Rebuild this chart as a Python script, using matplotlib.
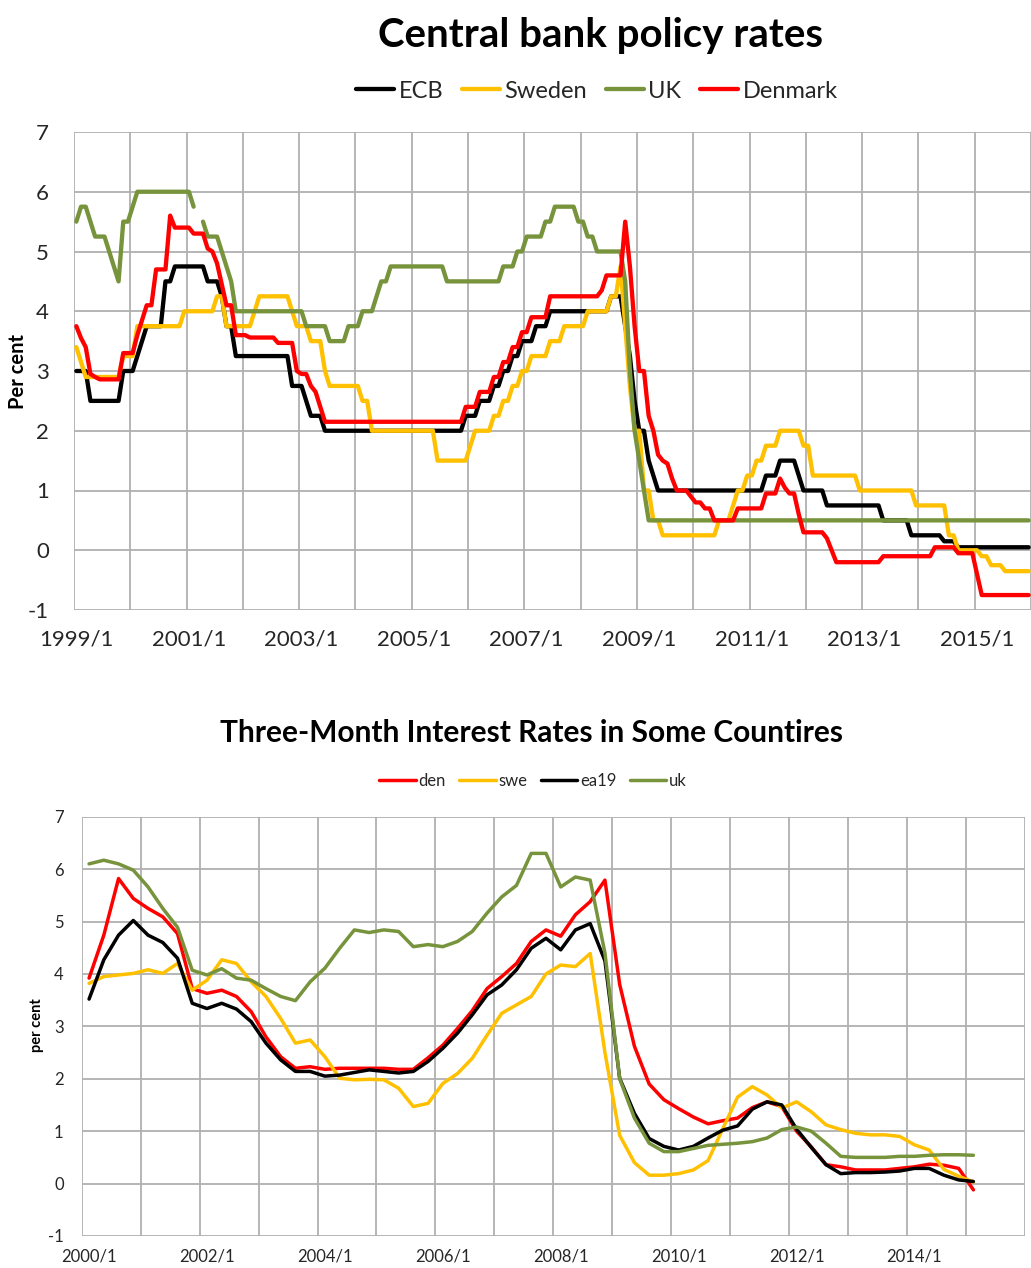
import numpy as np
import matplotlib
matplotlib.use("Agg")
import matplotlib.pyplot as plt

plt.rcParams['font.family'] = ['Lato', 'DejaVu Sans']
plt.rcParams['axes.unicode_minus'] = False

# ---------------- Top chart: monthly policy rates, 1999/1 .. 2015/12 ----------------
ecb_rate = [
    3.0, 3.0, 3.0, 2.5, 2.5, 2.5, 2.5, 2.5, 2.5, 2.5, 3.0, 3.0,            # 1999
    3.0, 3.25, 3.5, 3.75, 3.75, 3.75, 3.75, 4.5, 4.5, 4.75, 4.75, 4.75,    # 2000
    4.75, 4.75, 4.75, 4.75, 4.5, 4.5, 4.5, 4.25, 3.75, 3.75, 3.25, 3.25,   # 2001
    3.25, 3.25, 3.25, 3.25, 3.25, 3.25, 3.25, 3.25, 3.25, 3.25, 2.75, 2.75,  # 2002
    2.75, 2.5, 2.25, 2.25, 2.25, 2.0, 2.0, 2.0, 2.0, 2.0, 2.0, 2.0,        # 2003
    2.0, 2.0, 2.0, 2.0, 2.0, 2.0, 2.0, 2.0, 2.0, 2.0, 2.0, 2.0,            # 2004
    2.0, 2.0, 2.0, 2.0, 2.0, 2.0, 2.0, 2.0, 2.0, 2.0, 2.0, 2.25,           # 2005
    2.25, 2.25, 2.5, 2.5, 2.5, 2.75, 2.75, 3.0, 3.0, 3.25, 3.25, 3.5,      # 2006
    3.5, 3.5, 3.75, 3.75, 3.75, 4.0, 4.0, 4.0, 4.0, 4.0, 4.0, 4.0,         # 2007
    4.0, 4.0, 4.0, 4.0, 4.0, 4.0, 4.25, 4.25, 4.25, 3.75, 3.25, 2.5,       # 2008
    2.0, 2.0, 1.5, 1.25, 1.0, 1.0, 1.0, 1.0, 1.0, 1.0, 1.0, 1.0,           # 2009
    1.0, 1.0, 1.0, 1.0, 1.0, 1.0, 1.0, 1.0, 1.0, 1.0, 1.0, 1.0,            # 2010
    1.0, 1.0, 1.0, 1.25, 1.25, 1.25, 1.5, 1.5, 1.5, 1.5, 1.25, 1.0,        # 2011
    1.0, 1.0, 1.0, 1.0, 0.75, 0.75, 0.75, 0.75, 0.75, 0.75, 0.75, 0.75,    # 2012
    0.75, 0.75, 0.75, 0.75, 0.5, 0.5, 0.5, 0.5, 0.5, 0.5, 0.25, 0.25,      # 2013
    0.25, 0.25, 0.25, 0.25, 0.25, 0.15, 0.15, 0.15, 0.05, 0.05, 0.05, 0.05,  # 2014
    0.05, 0.05, 0.05, 0.05, 0.05, 0.05, 0.05, 0.05, 0.05, 0.05, 0.05, 0.05,  # 2015
]
sweden_rate = [
    3.4, 3.15, 2.9, 2.9, 2.9, 2.9, 2.9, 2.9, 2.9, 2.9, 3.25, 3.25,         # 1999
    3.25, 3.75, 3.75, 3.75, 3.75, 3.75, 3.75, 3.75, 3.75, 3.75, 3.75, 4.0,  # 2000
    4.0, 4.0, 4.0, 4.0, 4.0, 4.0, 4.25, 4.25, 3.75, 3.75, 3.75, 3.75,      # 2001
    3.75, 3.75, 4.0, 4.25, 4.25, 4.25, 4.25, 4.25, 4.25, 4.25, 4.0, 3.75,  # 2002
    3.75, 3.75, 3.5, 3.5, 3.5, 3.0, 2.75, 2.75, 2.75, 2.75, 2.75, 2.75,    # 2003
    2.75, 2.5, 2.5, 2.0, 2.0, 2.0, 2.0, 2.0, 2.0, 2.0, 2.0, 2.0,           # 2004
    2.0, 2.0, 2.0, 2.0, 2.0, 1.5, 1.5, 1.5, 1.5, 1.5, 1.5, 1.5,            # 2005
    1.75, 2.0, 2.0, 2.0, 2.0, 2.25, 2.25, 2.5, 2.5, 2.75, 2.75, 3.0,       # 2006
    3.0, 3.25, 3.25, 3.25, 3.25, 3.5, 3.5, 3.5, 3.75, 3.75, 3.75, 3.75,    # 2007
    3.75, 4.0, 4.0, 4.0, 4.0, 4.0, 4.25, 4.25, 4.75, 3.75, 2.75, 2.0,      # 2008
    2.0, 1.0, 1.0, 0.5, 0.5, 0.25, 0.25, 0.25, 0.25, 0.25, 0.25, 0.25,     # 2009
    0.25, 0.25, 0.25, 0.25, 0.25, 0.5, 0.5, 0.5, 0.75, 1.0, 1.0, 1.25,     # 2010
    1.25, 1.5, 1.5, 1.75, 1.75, 1.75, 2.0, 2.0, 2.0, 2.0, 2.0, 1.75,       # 2011
    1.75, 1.25, 1.25, 1.25, 1.25, 1.25, 1.25, 1.25, 1.25, 1.25, 1.25, 1.0,  # 2012
    1.0, 1.0, 1.0, 1.0, 1.0, 1.0, 1.0, 1.0, 1.0, 1.0, 1.0, 0.75,           # 2013
    0.75, 0.75, 0.75, 0.75, 0.75, 0.75, 0.25, 0.25, 0.0, 0.0, 0.0, 0.0,    # 2014
    0.0, -0.1, -0.1, -0.25, -0.25, -0.25, -0.35, -0.35, -0.35, -0.35, -0.35, -0.35,  # 2015
]
uk_rate = [
    5.5, 5.75, 5.75, 5.5, 5.25, 5.25, 5.25, 5.0, 4.75, 4.5, 5.5, 5.5,      # 1999
    5.75, 6.0, 6.0, 6.0, 6.0, 6.0, 6.0, 6.0, 6.0, 6.0, 6.0, 6.0,           # 2000
    6.0, 5.75, np.nan, 5.5, 5.25, 5.25, 5.25, 5.0, 4.75, 4.5, 4.0, 4.0,    # 2001
    4.0, 4.0, 4.0, 4.0, 4.0, 4.0, 4.0, 4.0, 4.0, 4.0, 4.0, 4.0,            # 2002
    4.0, 3.75, 3.75, 3.75, 3.75, 3.75, 3.5, 3.5, 3.5, 3.5, 3.75, 3.75,     # 2003
    3.75, 4.0, 4.0, 4.0, 4.25, 4.5, 4.5, 4.75, 4.75, 4.75, 4.75, 4.75,     # 2004
    4.75, 4.75, 4.75, 4.75, 4.75, 4.75, 4.75, 4.5, 4.5, 4.5, 4.5, 4.5,     # 2005
    4.5, 4.5, 4.5, 4.5, 4.5, 4.5, 4.5, 4.75, 4.75, 4.75, 5.0, 5.0,         # 2006
    5.25, 5.25, 5.25, 5.25, 5.5, 5.5, 5.75, 5.75, 5.75, 5.75, 5.75, 5.5,   # 2007
    5.5, 5.25, 5.25, 5.0, 5.0, 5.0, 5.0, 5.0, 5.0, 4.5, 3.0, 2.0,          # 2008
    1.5, 1.0, 0.5, 0.5, 0.5, 0.5, 0.5, 0.5, 0.5, 0.5, 0.5, 0.5,            # 2009
    0.5, 0.5, 0.5, 0.5, 0.5, 0.5, 0.5, 0.5, 0.5, 0.5, 0.5, 0.5,            # 2010
    0.5, 0.5, 0.5, 0.5, 0.5, 0.5, 0.5, 0.5, 0.5, 0.5, 0.5, 0.5,            # 2011
    0.5, 0.5, 0.5, 0.5, 0.5, 0.5, 0.5, 0.5, 0.5, 0.5, 0.5, 0.5,            # 2012
    0.5, 0.5, 0.5, 0.5, 0.5, 0.5, 0.5, 0.5, 0.5, 0.5, 0.5, 0.5,            # 2013
    0.5, 0.5, 0.5, 0.5, 0.5, 0.5, 0.5, 0.5, 0.5, 0.5, 0.5, 0.5,            # 2014
    0.5, 0.5, 0.5, 0.5, 0.5, 0.5, 0.5, 0.5, 0.5, 0.5, 0.5, 0.5,            # 2015
]
denmark_rate = [
    3.75, 3.55, 3.4, 2.95, 2.9, 2.86, 2.86, 2.86, 2.86, 2.86, 3.3, 3.3,    # 1999
    3.3, 3.6, 3.85, 4.1, 4.1, 4.7, 4.7, 4.7, 5.6, 5.4, 5.4, 5.4,           # 2000
    5.4, 5.3, 5.3, 5.3, 5.05, 5.0, 4.8, 4.45, 4.1, 4.1, 3.6, 3.6,          # 2001
    3.6, 3.56, 3.56, 3.56, 3.56, 3.56, 3.56, 3.47, 3.47, 3.47, 3.47, 3.0,  # 2002
    2.95, 2.95, 2.75, 2.65, 2.4, 2.15, 2.15, 2.15, 2.15, 2.15, 2.15, 2.15,  # 2003
    2.15, 2.15, 2.15, 2.15, 2.15, 2.15, 2.15, 2.15, 2.15, 2.15, 2.15, 2.15,  # 2004
    2.15, 2.15, 2.15, 2.15, 2.15, 2.15, 2.15, 2.15, 2.15, 2.15, 2.15, 2.4,   # 2005
    2.4, 2.4, 2.65, 2.65, 2.65, 2.9, 2.9, 3.15, 3.15, 3.4, 3.4, 3.65,      # 2006
    3.65, 3.9, 3.9, 3.9, 3.9, 4.25, 4.25, 4.25, 4.25, 4.25, 4.25, 4.25,    # 2007
    4.25, 4.25, 4.25, 4.25, 4.35, 4.6, 4.6, 4.6, 4.6, 5.5, 4.75, 3.75,     # 2008
    3.0, 3.0, 2.25, 2.0, 1.6, 1.5, 1.45, 1.2, 1.0, 1.0, 1.0, 0.9,          # 2009
    0.8, 0.8, 0.7, 0.7, 0.5, 0.5, 0.5, 0.5, 0.5, 0.7, 0.7, 0.7,            # 2010
    0.7, 0.7, 0.7, 0.95, 0.95, 0.95, 1.2, 1.05, 0.95, 0.95, 0.6, 0.3,      # 2011
    0.3, 0.3, 0.3, 0.3, 0.2, 0.0, -0.2, -0.2, -0.2, -0.2, -0.2, -0.2,      # 2012
    -0.2, -0.2, -0.2, -0.2, -0.1, -0.1, -0.1, -0.1, -0.1, -0.1, -0.1, -0.1,  # 2013
    -0.1, -0.1, -0.1, 0.05, 0.05, 0.05, 0.05, 0.05, -0.05, -0.05, -0.05, -0.05,  # 2014
    -0.4, -0.75, -0.75, -0.75, -0.75, -0.75, -0.75, -0.75, -0.75, -0.75, -0.75, -0.75,  # 2015
]
top_months = [f"{y}/{m}" for y in range(1999, 2016) for m in range(1, 13)]

# ---------------- Bottom chart: quarterly 3-month rates, 2000Q1 .. 2015Q1 ----------------
den_3m = [
    3.92, 4.74, 5.82, 5.44,   # 2000
    5.25, 5.09, 4.77, 3.72,   # 2001
    3.63, 3.69, 3.57, 3.28,   # 2002
    2.80, 2.42, 2.20, 2.23,   # 2003
    2.18, 2.20, 2.20, 2.20,   # 2004
    2.20, 2.18, 2.18, 2.40,   # 2005
    2.64, 2.96, 3.30, 3.72,   # 2006
    3.95, 4.20, 4.62, 4.84,   # 2007
    4.72, 5.13, 5.38, 5.79,   # 2008
    3.80, 2.62, 1.90, 1.60,   # 2009
    1.43, 1.27, 1.14, 1.20,   # 2010
    1.25, 1.45, 1.56, 1.47,   # 2011
    1.00, 0.70, 0.36, 0.32,   # 2012
    0.26, 0.26, 0.26, 0.29,   # 2013
    0.32, 0.37, 0.35, 0.29,   # 2014
    -0.12,                    # 2015
]
swe_3m = [
    3.82, 3.95, 3.98, 4.01,
    4.08, 4.01, 4.20, 3.69,
    3.88, 4.27, 4.20, 3.85,
    3.57, 3.15, 2.68, 2.74,
    2.42, 2.01, 1.98, 1.99,
    1.98, 1.82, 1.47, 1.53,
    1.91, 2.10, 2.39, 2.83,
    3.25, 3.41, 3.57, 4.00,
    4.17, 4.14, 4.39, 2.50,
    0.92, 0.40, 0.16, 0.16,
    0.19, 0.26, 0.44, 1.05,
    1.65, 1.85, 1.69, 1.44,
    1.56, 1.37, 1.12, 1.03,
    0.96, 0.93, 0.93, 0.90,
    0.74, 0.64, 0.27, 0.14,
    0.03,
]
ea19_3m = [
    3.52, 4.27, 4.74, 5.02,
    4.74, 4.60, 4.30, 3.44,
    3.34, 3.44, 3.33, 3.09,
    2.68, 2.36, 2.14, 2.14,
    2.05, 2.07, 2.12, 2.17,
    2.14, 2.11, 2.14, 2.33,
    2.58, 2.87, 3.22, 3.60,
    3.79, 4.08, 4.49, 4.68,
    4.46, 4.84, 4.96, 4.25,
    2.01, 1.34, 0.86, 0.71,
    0.64, 0.71, 0.87, 1.02,
    1.10, 1.42, 1.56, 1.50,
    1.04, 0.69, 0.36, 0.19,
    0.21, 0.21, 0.22, 0.24,
    0.29, 0.29, 0.16, 0.07,
    0.04,
]
uk_3m = [
    6.10, 6.17, 6.10, 5.98,
    5.66, 5.25, 4.89, 4.07,
    3.98, 4.10, 3.92, 3.88,
    3.72, 3.57, 3.49, 3.85,
    4.11, 4.49, 4.84, 4.79,
    4.84, 4.81, 4.52, 4.56,
    4.52, 4.62, 4.81, 5.16,
    5.47, 5.69, 6.30, 6.30,
    5.66, 5.85, 5.79, 4.40,
    2.00, 1.25, 0.77, 0.61,
    0.61, 0.67, 0.73, 0.75,
    0.77, 0.80, 0.87, 1.03,
    1.08, 1.00, 0.77, 0.52,
    0.50, 0.50, 0.50, 0.52,
    0.52, 0.54, 0.55, 0.55,
    0.54,
]
bottom_quarters = [f"{y}/{m}" for y in range(2000, 2016) for m in (1, 4, 7, 10)]

for arr in (ecb_rate, sweden_rate, uk_rate, denmark_rate):
    assert len(arr) == len(top_months), len(arr)
for arr in (den_3m, swe_3m, ea19_3m, uk_3m):
    assert len(arr) == 61, len(arr)

# ---------------- Figure ----------------
W, H = 1031, 1268
fig = plt.figure(figsize=(W / 100, H / 100), dpi=100)


def fx(px):
    return px / W


def fy(py):
    return 1 - py / H


GRID = '#b0b0b0'
TXT = '#262626'
BLACK, GOLD, GREEN, RED = '#000000', '#FFC000', '#77933C', '#FF0000'

# ---- top axes ----
ax1 = fig.add_axes([fx(74), fy(610), fx(1031) - fx(74), fy(132) - fy(610)])
x1 = np.arange(len(top_months))
for name, vals, col in [("ECB", ecb_rate, BLACK), ("Sweden", sweden_rate, GOLD),
                        ("UK", uk_rate, GREEN), ("Denmark", denmark_rate, RED)]:
    ax1.plot(x1, vals, color=col, lw=3.1, label=name,
             solid_joinstyle='round', solid_capstyle='round')
ax1.set_xlim(-0.5, 201.9)
ax1.set_ylim(-1, 7)
ax1.set_xticks(x1[::24])
ax1.set_xticklabels(top_months[::24])
ax1.set_xticks(np.arange(-0.5, len(top_months), 12), minor=True)
ax1.set_yticks(range(-1, 8))
ax1.grid(axis='x', which='minor', color=GRID, lw=1.3)
ax1.grid(axis='y', which='major', color=GRID, lw=1.3)
ax1.grid(axis='x', which='major', visible=False)
ax1.tick_params(which='both', length=0)
ax1.tick_params(axis='x', pad=14, labelsize=16, labelcolor=TXT)
ax1.tick_params(axis='y', pad=18, labelsize=16, labelcolor=TXT)
for s in ax1.spines.values():
    s.set_visible(False)
ax1.set_axisbelow(True)

fig.text(fx(600), fy(35), "Central bank policy rates", fontsize=29,
         fontweight='bold', ha='center', va='center', color='#000000')
fig.text(fx(18), fy(372), "Per cent", rotation=90, fontsize=14.5,
         fontweight='bold', ha='center', va='center', color='#000000')
ax1.legend(loc='center', bbox_to_anchor=(fx(597), fy(91)), bbox_transform=fig.transFigure,
           ncol=4, frameon=False, fontsize=17, handlelength=1.6,
           handletextpad=0.2, columnspacing=0.8, labelcolor=TXT)

# ---- bottom axes ----
ax2 = fig.add_axes([fx(81.7), fy(1236), fx(1025) - fx(81.7), fy(816.7) - fy(1236)])
x2 = np.arange(len(den_3m))
for name, vals, col in [("den", den_3m, RED), ("swe", swe_3m, GOLD),
                        ("ea19", ea19_3m, BLACK), ("uk", uk_3m, GREEN)]:
    ax2.plot(x2, vals, color=col, lw=2.5, label=name,
             solid_joinstyle='round', solid_capstyle='round')
ax2.set_xlim(-0.5, len(bottom_quarters) - 0.5)
ax2.set_ylim(-1, 7)
ax2.set_xticks(np.arange(0, len(bottom_quarters), 8))
ax2.set_xticklabels(bottom_quarters[::8])
ax2.set_xticks(np.arange(-0.5, len(bottom_quarters), 4), minor=True)
ax2.set_yticks(range(-1, 8))
ax2.grid(axis='x', which='minor', color=GRID, lw=1.3)
ax2.grid(axis='y', which='major', color=GRID, lw=1.3)
ax2.grid(axis='x', which='major', visible=False)
ax2.tick_params(which='both', length=0)
ax2.tick_params(axis='x', pad=9, labelsize=12, labelcolor=TXT)
ax2.tick_params(axis='y', pad=13, labelsize=12, labelcolor=TXT)
for s in ax2.spines.values():
    s.set_visible(False)
ax2.set_axisbelow(True)

fig.text(fx(531.5), fy(733), "Three-Month Interest Rates in Some Countires", fontsize=21.5,
         fontweight='bold', ha='center', va='center', color='#000000')
fig.text(fx(37), fy(1025), "per cent", rotation=90, fontsize=10.5,
         fontweight='bold', ha='center', va='center', color='#000000')
ax2.legend(loc='center', bbox_to_anchor=(fx(533), fy(781)), bbox_transform=fig.transFigure,
           ncol=4, frameon=False, fontsize=12, handlelength=2.2,
           handletextpad=0.15, columnspacing=0.8, labelcolor=TXT)

fig.savefig("out.png", dpi=100)
